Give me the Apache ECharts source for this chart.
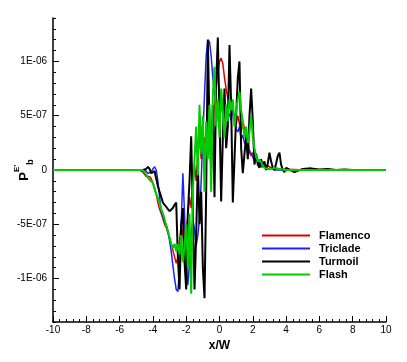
<!DOCTYPE html>
<html>
<head>
<meta charset="utf-8">
<script src="https://cdn.jsdelivr.net/npm/echarts@6/dist/echarts.min.js"></script>
<style>
html,body{margin:0;padding:0;background:#fff;}
#main{width:407px;height:362px;}
</style>
</head>
<body>
<div id="main"></div>
<script>
// x/W positions shared by all four curves
var xs = [-10, -8, -6, -5.5,
  -5.0,-4.9,-4.8,-4.7,-4.6,-4.5,-4.4,-4.3,-4.2,-4.1,
  -4.0,-3.9,-3.8,-3.7,-3.6,-3.5,-3.4,-3.3,-3.2,-3.1,
  -3.0,-2.9,-2.8,-2.7,-2.6,-2.5,-2.4,-2.3,-2.2,-2.1,
  -2.0,-1.9,-1.8,-1.7,-1.6,-1.5,-1.4,-1.3,-1.2,-1.1,
  -1.0,-0.9,-0.8,-0.7,-0.6,-0.5,-0.4,-0.3,-0.2,-0.1,
  0.0,0.1,0.2,0.3,0.4,0.5,0.6,0.7,0.8,0.9,
  1.0,1.1,1.2,1.3,1.4,1.5,1.6,1.7,1.8,1.9,
  2.0,2.1,2.2,2.3,2.4,2.5,2.6,2.7,2.8,2.9,
  3.0,3.1,3.2,3.3,3.4,3.5,3.6,3.7,3.8,3.9,
  4.0,
  4.5,5,5.5,6,6.5,7,7.5,8,8.5,9,9.5,10];

// values in units of 1E-07
var flamenco = [0,0,0,0,
  0,0,0,-0.1,-0.2,-0.4,-0.6,-0.7,-0.6,-0.8,
  -1.2,-1.6,-2.2,-3.0,-3.6,-4.0,-4.5,-5.0,-5.3,-5.8,
  -6.3,-6.8,-7.4,-8.0,-8.6,-8.0,-6.5,-5.0,-6.0,-7.5,
  -6.0,-4.0,-2.5,-3.5,-1.5,0.5,-1.0,1.5,3.0,1.0,
  1.5,3.0,2.0,4.0,2.5,3.5,3.8,6.0,7.6,9.0,
  10.0,10.3,9.8,8.5,7.5,6.6,6.0,6.4,5.5,5.0,
  4.2,5.0,4.2,3.5,4.5,3.8,2.5,2.0,1.6,1.3,
  1.6,1.5,1.2,0.8,0.9,0.6,0.5,0.4,0.3,0.4,
  0.3,0.2,0.3,0.2,0.1,0.15,0.2,0.1,0.1,0.05,
  0.1,
  0.05,0,0,0,0,0,0,0,0,0,0,0];

var triclade = [0,0,0,0,
  0,0,0,0,0,0,-0.1,-0.3,-0.4,-0.2,
  0.1,0.3,0.0,-1.0,-2.5,-3.8,-4.3,-4.8,-5.0,-5.6,
  -6.5,-7.5,-8.8,-10.0,-11.0,-11.2,-9.0,-5.0,-0.3,-4.0,
  -9.0,-10.6,-8.5,-6.0,-4.5,-5.5,-7.0,-6.0,-4.5,-1.0,
  3.0,7.0,10.5,12.0,11.8,10.5,8.5,7.0,6.5,6.0,
  5.5,5.8,5.2,6.0,5.0,4.8,5.2,4.6,5.5,4.6,
  3.8,3.5,4.0,2.8,3.2,2.5,2.2,2.6,1.8,1.5,
  1.2,0.8,1.2,0.7,0.5,0.3,0.2,0.3,0.2,0.1,
  0.1,0.2,0.1,0.0,0.1,0.0,0.1,0.0,0.0,0.0,
  0,
  0,0,0,0,0,0,0,0,0,0,0,0];

var turmoil = [0,0,0,0,
  0,0,0,0,0,0,0.1,0.3,0.1,-0.3,
  -0.4,-0.1,-0.8,-1.5,-2.0,-2.5,-3.0,-3.2,-3.4,-3.6,
  -3.8,-3.7,-3.5,-3.2,-3.0,-8.0,-11.0,-5.0,-3.5,-8.5,
  -11.0,-4.0,-1.0,3.1,-4.0,-11.0,-6.0,0.5,-5.0,-2.0,
  -9.0,-11.8,-2.0,12.0,4.0,0.0,6.0,-2.5,8.0,12.2,
  5.0,-2.9,3.0,7.5,2.0,4.0,11.5,6.0,-3.0,1.0,
  5.0,8.5,10.0,2.0,-0.3,1.5,3.0,1.0,5.0,7.5,
  4.5,0.5,1.5,0.5,0.2,1.0,0.3,0.8,0.0,0.6,
  1.6,0.8,0.2,0.0,0.6,1.3,1.6,0.5,0.0,-0.2,
  0.2,
  -0.2,0.1,0.15,0.05,0.1,0,0.05,0,0,0,0,0];

var flash = [0,0,0,0,
  0,0,0,0,0,-0.1,-0.4,-0.7,-0.9,-1.0,
  -1.2,-1.8,-2.2,-2.6,-3.0,-3.6,-4.0,-4.5,-5.2,-5.6,
  -6.2,-6.8,-7.2,-6.8,-7.5,-6.8,-7.8,-6.0,-8.5,-7.0,
  -5.0,-9.0,-4.0,-11.4,-2.0,1.0,4.0,-0.5,6.0,1.5,
  5.0,-2.0,4.5,1.0,6.0,-2.0,7.0,9.5,4.0,6.5,
  3.0,7.5,5.5,3.0,6.0,4.5,6.5,5.5,6.5,4.0,
  5.5,6.5,7.2,5.5,4.5,3.0,4.0,2.5,3.5,5.0,
  3.0,2.0,1.2,0.8,1.0,0.7,0.4,0.2,0.3,0.1,
  0.2,0.1,0.1,0.2,0.1,0.1,0.0,0.1,0.0,0.0,
  0.05,
  0,0,0,0,0,0,0,0,0,0,0,0];

var seriesNames = ['Flamenco', 'Triclade', 'Turmoil', 'Flash'];
var seriesColors = ['#e00000', '#2020ff', '#000000', '#00cc00'];
var seriesWidths = [1.5, 1.5, 2, 2];
var seriesValues = [flamenco, triclade, turmoil, flash];

var yTickValues = [-10, -5, 0, 5, 10];
var yTickLabels = ['-1E-06', '-5E-07', '0', '5E-07', '1E-06'];

var FONT = "'Liberation Sans', Arial, Helvetica, sans-serif";

var myChart = echarts.init(document.getElementById('main'));

var series = [];
for (var s = 0; s < seriesNames.length; s++) {
  var pts = [];
  for (var i = 0; i < xs.length; i++) pts.push([xs[i], seriesValues[s][i]]);
  series.push({
    name: seriesNames[s],
    type: 'line',
    xAxisIndex: 0,
    yAxisIndex: 0,
    data: pts,
    symbol: 'none',
    color: seriesColors[s],
    lineStyle: {width: seriesWidths[s], color: seriesColors[s]}
  });
}

var option = {
  animation: false,
  backgroundColor: '#fff',
  textStyle: {fontFamily: FONT},
  grid: [
    {left: 53, right: 21, top: 18, bottom: 40, outerBoundsMode: 'none'},
    // same pixel scale, used only for the labelled (major) y ticks
    {left: 53, right: 21, top: 61.43, bottom: 83.43, outerBoundsMode: 'none'}
  ],
  legend: {
    orient: 'vertical',
    left: 257,
    top: 225,
    icon: 'rect',
    itemWidth: 48,
    itemHeight: 2,
    itemGap: 2,
    data: seriesNames,
    textStyle: {fontFamily: FONT, fontSize: 11, lineHeight: 11, fontWeight: 'bold', color: '#000', padding: [0, 0, 0, 4]}
  },
  xAxis: [
    {
      type: 'value', gridIndex: 0, min: -10, max: 10, interval: 2,
      name: 'x/W', nameLocation: 'middle', nameGap: 16,
      nameTextStyle: {fontFamily: FONT, fontSize: 12, fontWeight: 'bold', color: '#000'},
      axisLine: {onZero: false, lineStyle: {color: '#000', width: 1.5}},
      axisTick: {inside: true, length: 6, lineStyle: {color: '#000', width: 1}},
      minorTick: {show: true, splitNumber: 5, length: 3, lineStyle: {color: '#000', width: 1}},
      axisLabel: {fontFamily: FONT, fontSize: 10, color: '#000', margin: 3},
      splitLine: {show: false}
    },
    {type: 'value', gridIndex: 1, min: -10, max: 10, show: false}
  ],
  yAxis: [
    {
      type: 'value', gridIndex: 0, min: -14, max: 14, interval: 1,
      name: "{p|P}{s|E'}{b|b}", nameLocation: 'middle', nameRotate: 90, nameGap: 18,
      nameTextStyle: {
        rich: {
          p: {fontFamily: FONT, fontSize: 13, fontWeight: 'bold', color: '#000', lineHeight: 22, verticalAlign: 'middle'},
          s: {fontFamily: FONT, fontSize: 8, fontWeight: 'bold', color: '#000', lineHeight: 8, verticalAlign: 'top'},
          b: {fontFamily: FONT, fontSize: 9, fontWeight: 'bold', color: '#000', lineHeight: 9, verticalAlign: 'bottom'}
        }
      },
      axisLine: {show: true, onZero: false, lineStyle: {color: '#000', width: 1.5}},
      axisTick: {show: true, inside: true, length: 3, lineStyle: {color: '#000', width: 1}},
      axisLabel: {show: false},
      splitLine: {show: false}
    },
    {
      type: 'value', gridIndex: 1, min: -10, max: 10, interval: 5,
      axisLine: {show: false, onZero: false},
      axisTick: {show: true, inside: true, length: 6, lineStyle: {color: '#000', width: 1}},
      axisLabel: {
        fontFamily: FONT, fontSize: 10, color: '#000', margin: 6,
        formatter: function (v) {
          var k = yTickValues.indexOf(v);
          return k >= 0 ? yTickLabels[k] : '';
        }
      },
      splitLine: {show: false}
    }
  ],
  series: series
};

myChart.setOption(option);
</script>
</body>
</html>
